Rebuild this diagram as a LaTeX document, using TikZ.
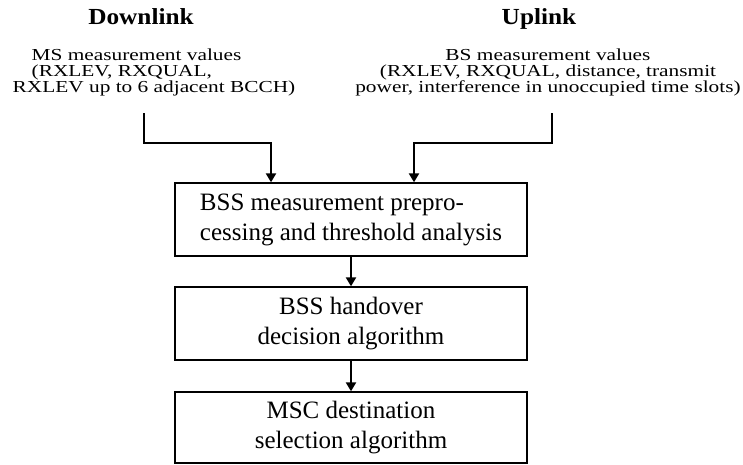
\documentclass[tikz,border=0pt]{standalone}
\usepackage{fontspec}
\setmainfont{Liberation Serif}
\newfontfamily\widefont[FakeStretch=1.27]{Liberation Serif}
\newfontfamily\titlefont[FakeStretch=1.1]{Liberation Serif Bold}
\usetikzlibrary{arrows.meta}

\tikzset{
  stagebox/.style={draw, line width=1.4pt, minimum width=352pt, minimum height=73pt,
    align=center, inner sep=0pt, font=\fontsize{25}{30}\selectfont},
  linktitle/.style={anchor=base, font=\fontsize{23}{25}\selectfont\titlefont},
  measure/.style={align=center, inner sep=0pt, font=\fontsize{16.8}{16}\selectfont\widefont},
  flow/.style={line width=2.8pt, -{Triangle[width=10pt,length=9pt]}},
}

\begin{document}
\begin{tikzpicture}[x=1pt,y=-1pt]
\useasboundingbox (0,0) rectangle (743,464);

% titles
\node[linktitle] (down) at (141,24) {Downlink};
\node[linktitle] (up) at (539,24) {Uplink};

% measurement values
\node[measure, align=left] (ms) at (154,72) {\hspace*{19pt}MS measurement values\\\hspace*{19pt}(RXLEV, RXQUAL,\\RXLEV up to 6 adjacent BCCH)};
\node[measure] (bs) at (548,72) {BS measurement values\\(RXLEV, RXQUAL, distance, transmit\\power, interference in unoccupied time slots)};
\coordinate (msout) at (144,113);
\coordinate (bsout) at (552,113);

% processing chain
\node[stagebox, align=left] (pre) at (351,219.5) {BSS measurement prepro-\\cessing and threshold analysis};
\node[stagebox] (hand) at (351,323.5) {BSS handover\\decision algorithm};
\node[stagebox, minimum height=71pt] (msc) at (351,427.5) {MSC destination\\selection algorithm};

\draw[flow] (msout) -- ++(0,30) -| ([xshift=-80pt]pre.north);
\draw[flow] (bsout) -- ++(0,30) -| ([xshift=63pt]pre.north);
\draw[flow] (pre) -- (hand);
\draw[flow] (hand) -- (msc);

\end{tikzpicture}
\end{document}
